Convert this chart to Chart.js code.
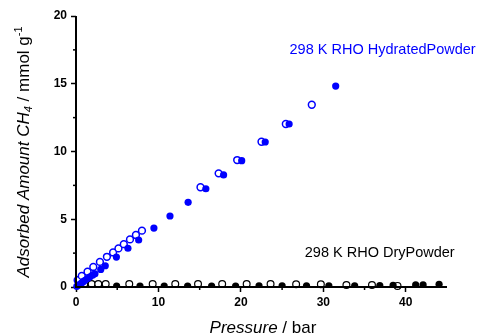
<!DOCTYPE html>
<html>
<head>
<meta charset="utf-8">
<script src="https://cdn.jsdelivr.net/npm/chart.js@4"></script>
<style>
  body { margin: 0; background: #fff; }
  #box { width: 477px; height: 336px; }
</style>
</head>
<body>
<div id="box"><canvas id="grafico"></canvas></div>
<script>
// hydrated powder, adsorption (filled) and desorption (open)
const hidAdsP = [0.1, 0.3, 0.5, 0.7, 0.9, 1.1, 1.4, 1.7, 2.0, 2.3, 3.0, 3.55, 4.9, 6.3, 7.6, 9.45, 11.4, 13.6, 15.75, 17.9, 20.1, 22.95, 25.85, 31.5];
const hidAdsQ = [0.05, 0.13, 0.22, 0.31, 0.40, 0.49, 0.62, 0.75, 0.87, 0.97, 1.3, 1.57, 2.21, 2.86, 3.47, 4.35, 5.24, 6.25, 7.25, 8.27, 9.32, 10.7, 12.03, 14.83];
const hidDesP = [0.2, 0.7, 1.4, 2.1, 2.9, 3.75, 4.5, 5.15, 5.8, 6.55, 7.27, 8.0, 15.1, 17.3, 19.55, 22.5, 25.45, 28.6];
const hidDesQ = [0.5, 0.82, 1.13, 1.48, 1.85, 2.23, 2.55, 2.85, 3.16, 3.51, 3.84, 4.16, 7.36, 8.39, 9.37, 10.72, 12.03, 13.45];

// dry powder
const secoAdsP = [4.93, 7.76, 10.7, 13.54, 16.45, 19.36, 22.2, 25.0, 27.96, 30.67, 33.8, 36.85, 38.46, 41.2, 42.1, 44.04];
const secoAdsQ = [0.06, 0.06, 0.06, 0.07, 0.07, 0.07, 0.08, 0.08, 0.08, 0.09, 0.09, 0.1, 0.12, 0.15, 0.16, 0.2];
const secoDesP = [1.0, 1.9, 2.7, 3.6, 6.46, 9.3, 12.04, 14.8, 17.73, 20.7, 23.6, 26.7, 29.7, 32.8, 35.9, 39.0];
const secoDesQ = [0.22, 0.22, 0.22, 0.22, 0.22, 0.22, 0.22, 0.22, 0.22, 0.22, 0.22, 0.2, 0.2, 0.15, 0.15, 0.08];

const ticksX = [0, 10, 20, 30, 40];
const ticksY = [0, 5, 10, 15, 20];

const AZUL = "#0000ff";

function pontos(xs, ys) {
  return xs.map((x, i) => ({ x: x, y: ys[i] }));
}

const eixos = {
  id: "eixos",
  afterDatasetsDraw(chart) {
    const ctx = chart.ctx;
    const sx = chart.scales.x;
    const sy = chart.scales.y;
    const area = chart.chartArea;

    ctx.save();
    ctx.strokeStyle = "#000";

    // minor ticks
    ctx.lineWidth = 1.5;
    for (let v = 5; v < 45; v += 10) {
      const px = sx.getPixelForValue(v);
      ctx.beginPath();
      ctx.moveTo(px, area.bottom);
      ctx.lineTo(px, area.bottom + 3);
      ctx.stroke();
    }
    for (let v = 2.5; v < 20; v += 5) {
      const py = sy.getPixelForValue(v);
      ctx.beginPath();
      ctx.moveTo(area.left, py);
      ctx.lineTo(area.left - 3, py);
      ctx.stroke();
    }

    // axis lines
    ctx.lineWidth = 2;
    ctx.beginPath();
    ctx.moveTo(area.left, area.top);
    ctx.lineTo(area.left, area.bottom);
    ctx.lineTo(area.right, area.bottom);
    ctx.stroke();

    // x title
    ctx.fillStyle = "#000";
    ctx.textBaseline = "alphabetic";
    const italico = "italic 17px Arial";
    const normal = "17px Arial";
    ctx.font = italico;
    const w1 = ctx.measureText("Pressure").width;
    ctx.font = normal;
    const w2 = ctx.measureText(" / bar").width;
    let x0 = 263 - (w1 + w2) / 2;
    ctx.font = italico;
    ctx.fillText("Pressure", x0, 333);
    ctx.font = normal;
    ctx.fillText(" / bar", x0 + w1, 333);

    // y title, rotated
    ctx.save();
    ctx.translate(29, 152);
    ctx.rotate(-Math.PI / 2);
    const partes = [
      { t: "Adsorbed Amount CH", f: italico, dy: 0 },
      { t: "4", f: "italic 11px Arial", dy: 3 },
      { t: " / mmol g", f: normal, dy: 0 },
      { t: "-1", f: "11px Arial", dy: -7 }
    ];
    let total = 0;
    partes.forEach(p => { ctx.font = p.f; p.w = ctx.measureText(p.t).width; total += p.w; });
    let cx = -total / 2;
    partes.forEach(p => {
      ctx.font = p.f;
      ctx.fillText(p.t, cx, p.dy);
      cx += p.w;
    });
    ctx.restore();

    // labels for the two samples
    ctx.font = "14.5px Arial";
    ctx.textBaseline = "middle";
    ctx.fillStyle = AZUL;
    ctx.fillText("298 K RHO HydratedPowder", sx.getPixelForValue(25.9), sy.getPixelForValue(17.5));
    ctx.fillStyle = "#000";
    ctx.fillText("298 K RHO DryPowder", sx.getPixelForValue(27.75), sy.getPixelForValue(2.5));

    ctx.restore();
  }
};

new Chart(document.getElementById("grafico"), {
  type: "scatter",
  data: {
    datasets: [
      {
        label: "hidratado ads",
        data: pontos(hidAdsP, hidAdsQ),
        backgroundColor: AZUL,
        borderColor: AZUL,
        pointRadius: 3.6,
        borderWidth: 0,
        clip: false,
        order: 0
      },
      {
        label: "hidratado des",
        data: pontos(hidDesP, hidDesQ),
        backgroundColor: "#fff",
        borderColor: AZUL,
        pointRadius: 3.4,
        borderWidth: 1.5,
        clip: false,
        order: 1
      },
      {
        label: "seco ads",
        data: pontos(secoAdsP, secoAdsQ),
        backgroundColor: "#000",
        borderColor: "#000",
        pointRadius: 3.6,
        borderWidth: 0,
        clip: 0,
        order: 2
      },
      {
        label: "seco des",
        data: pontos(secoDesP, secoDesQ),
        backgroundColor: "#fff",
        borderColor: "#000",
        pointRadius: 3.4,
        borderWidth: 1.2,
        clip: false,
        order: 3
      }
    ]
  },
  options: {
    responsive: true,
    maintainAspectRatio: false,
    animation: false,
    layout: { padding: { top: 16, right: 30, left: 0, bottom: 0 } },
    plugins: {
      legend: { display: false },
      tooltip: { enabled: false }
    },
    scales: {
      x: {
        type: "linear",
        min: 0,
        max: 45,
        afterFit: s => { s.height = 49; },
        afterBuildTicks: s => { s.ticks = ticksX.map(v => ({ value: v })); },
        grid: { display: true, drawOnChartArea: false, drawTicks: true, tickLength: 5, tickWidth: 1.5, tickColor: "#000" },
        border: { display: false },
        ticks: {
          color: "#000",
          padding: 3,
          maxRotation: 0,
          font: { family: "Arial", size: 12, weight: "bold" }
        }
      },
      y: {
        type: "linear",
        min: 0,
        max: 20,
        afterFit: s => { s.width = 76; },
        afterBuildTicks: s => { s.ticks = ticksY.map(v => ({ value: v })); },
        grid: { display: true, drawOnChartArea: false, drawTicks: true, tickLength: 5, tickWidth: 1.5, tickColor: "#000" },
        border: { display: false },
        ticks: {
          color: "#000",
          padding: 4,
          font: { family: "Arial", size: 12, weight: "bold" }
        }
      }
    }
  },
  plugins: [eixos]
});
</script>
</body>
</html>
